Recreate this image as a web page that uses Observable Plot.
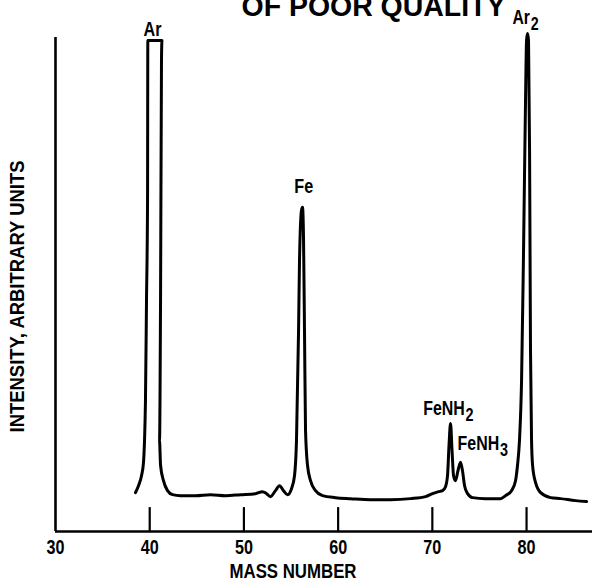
<!DOCTYPE html>
<html>
<head>
<meta charset="utf-8">
<script src="https://cdn.jsdelivr.net/npm/d3@7"></script>
<script src="https://cdn.jsdelivr.net/npm/@observablehq/plot@0.6"></script>
<style>
  html, body { margin: 0; padding: 0; background: #fff; }
  #chart svg { display: block; }
</style>
</head>
<body>
<div id="chart"></div>
<script>
// Mass spectrum trace: mass number and relative intensity (arbitrary units)
const massNumber = [
  38.49, 38.81, 39.13, 39.34, 39.45, 39.55, 39.66, 39.77, 39.80, 41.30, 41.25, 41.15, 41.04, 41.15, 41.46, 41.89, 42.42, 43.27,
  44.86, 46.45, 48.05, 49.64, 51.23, 51.97, 52.40, 52.82, 53.35, 53.78, 54.20, 54.63, 55.05,
  55.37, 55.58, 55.80, 55.90, 56.11, 56.22, 56.33, 56.43, 56.54, 56.75, 57.07, 57.60, 58.34,
  59.72, 61.32, 63.44, 65.56, 67.69, 69.28, 70.02, 70.66, 71.08, 71.40, 71.61, 71.77, 71.93,
  72.09, 72.25, 72.46, 72.72, 72.99, 73.20, 73.42, 73.74, 74.27, 75.65, 77.24, 77.77, 78.41,
  78.83, 79.04, 79.25, 79.47, 79.68, 79.89, 80.00, 80.10, 80.21, 80.32, 80.42, 80.53, 80.64,
  80.96, 81.49, 82.55, 83.60, 85.20, 86.37
];
const intensity = [
  7.8, 9.2, 11.2, 13.9, 18.3, 26.3, 46.4, 66.5, 98.6, 98.6, 94.6, 46.4, 18.3, 13.3, 10.2, 8.2, 7.4, 7.2,
  7.2, 7.4, 7.2, 7.4, 7.6, 8.0, 7.6, 7.0, 8.2, 9.2, 8.2, 7.4, 8.6,
  11.2, 18.3, 40.4, 54.4, 64.5, 65.1, 58.4, 40.4, 20.3, 13.3, 10.2, 8.2, 7.2,
  6.8, 6.6, 6.4, 6.4, 6.6, 7.0, 7.6, 8.0, 8.2, 9.0, 11.2, 17.3, 21.7,
  16.3, 11.2, 10.2, 12.2, 13.9, 12.2, 9.2, 7.6, 6.8, 6.6, 6.6, 7.2, 8.2,
  10.2, 13.3, 18.3, 30.3, 56.4, 86.5, 98.6, 100.0, 98.6, 76.5, 36.3, 18.3, 13.3,
  9.8, 7.8, 6.8, 6.6, 6.2, 6.0
];

// Peak identifications
const peakName = ["Ar", "Fe", "FeNH", "FeNH", "Ar"];
const peakSub = ["", "", "2", "3", "2"];
const peakMass = [40.2, 56.2, 71.9, 73.0, 80.1];
const peakTop = [98.6, 65.1, 21.7, 13.9, 100.0];

// Axis
const tickValues = [30, 40, 50, 60, 70, 80];
const xTitle = "MASS NUMBER";
const yTitle = "INTENSITY, ARBITRARY UNITS";
const stamp = "OF POOR QUALITY";
const yAxisTop = 99.2;

const spectrum = massNumber.map((m, i) => ({mass: m, intensity: intensity[i]}));
const peaks = peakName.map((n, i) => ({name: n, sub: peakSub[i], mass: peakMass[i], top: peakTop[i]}));

const font = "'Liberation Sans', Arial, sans-serif";
const ink = "#000";
const narrow = 0.77; // condensed lettering

// Name of a peak, set from the peak's top; its subscript is added below
function peakLabel(i, dx, dy) {
  return Plot.text([peaks[i]], {x: "mass", y: "top", text: "name", dx, dy, textAnchor: "start",
    fontSize: 21, fontWeight: "bold", fill: ink, lineAnchor: "bottom", ariaDescription: "peak label"});
}

const chart = Plot.plot({
  width: 592,
  height: 588,
  marginLeft: 55,
  marginRight: 0,
  marginTop: 33,
  marginBottom: 57,
  style: {fontFamily: font, background: "#fff", overflow: "visible", color: ink},
  x: {domain: [30, 87], axis: null},
  y: {domain: [0, 100], axis: null},
  marks: [
    // axes
    Plot.ruleY([0], {stroke: ink, strokeWidth: 2.6}),
    Plot.ruleX([30], {y1: 0, y2: yAxisTop, stroke: ink, strokeWidth: 2.6}),
    Plot.ruleX(tickValues.slice(1), {x: d => d, y1: 0, y2: 4.8, stroke: ink, strokeWidth: 2.2}),
    Plot.axisX(tickValues, {tickSize: 0, tickPadding: 8, fontSize: 21, fontWeight: "bold", label: null, fill: ink}),
    Plot.text([xTitle], {frameAnchor: "bottom", dx: -31, dy: 46, fontSize: 21, fontWeight: "bold", fill: ink}),
    Plot.text([yTitle], {frameAnchor: "left", dx: -38, dy: 150, rotate: -90, textAnchor: "start", fontSize: 21, fontWeight: "bold", fill: ink}),
    Plot.text([stamp], {frameAnchor: "top-left", dx: 186, dy: -18, textAnchor: "start", lineAnchor: "bottom",
      fontSize: 29, fontWeight: "bold", fill: ink}),
    // spectrum
    Plot.line(spectrum, {x: "mass", y: "intensity", stroke: ink, strokeWidth: 3, curve: "monotone-x", strokeLinejoin: "round"}),
    // peak labels
    peakLabel(0, -8, -4),
    peakLabel(1, -8, -14),
    peakLabel(2, -27, -8),
    peakLabel(3, -3, -12),
    peakLabel(4, -15, -10)
  ]
});

document.getElementById("chart").appendChild(chart);

// Subscripts of the peak names
d3.select(chart).selectAll('g[aria-description="peak label"] text').each(function (_, i) {
  if (peaks[i].sub) {
    d3.select(this).append("tspan").attr("dy", 6).attr("dx", 1).attr("font-size", 19).text(peaks[i].sub);
  }
});

// Condense the lettering; the titles get their set lengths
const fitted = new Map([[xTitle, 127], [yTitle, 272], [stamp, 264]]);
d3.select(chart).selectAll("text").each(function () {
  const len = fitted.get(this.textContent) ?? this.getComputedTextLength() * narrow;
  this.setAttribute("textLength", len);
  this.setAttribute("lengthAdjust", "spacingAndGlyphs");
});
</script>
</body>
</html>
